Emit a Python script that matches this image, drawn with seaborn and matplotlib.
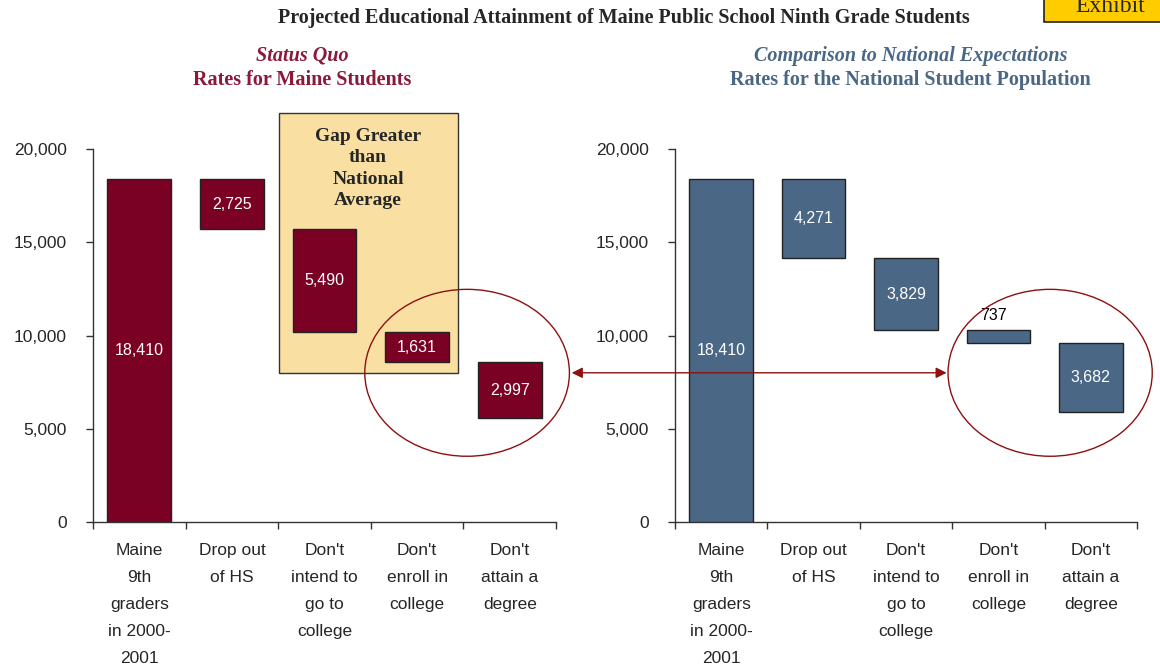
import matplotlib
matplotlib.use("Agg")
import matplotlib.pyplot as plt
from matplotlib.patches import Rectangle, Ellipse
import numpy as np
import pandas as pd
import seaborn as sns

# data
categories = ["Maine\n9th\ngraders\nin 2000-\n2001", "Drop out\nof HS",
              "Don't\nintend to\ngo to\ncollege", "Don't\nenroll in\ncollege",
              "Don't\nattain a\ndegree"]
total = 18410
maine_losses = [2725, 5490, 1631, 2997]
national_losses = [4271, 3829, 737, 3682]
yticks = [0, 5000, 10000, 15000, 20000]

red = "#7A0024"
blue = "#4A6785"
ring = "#8E1010"

sns.set_style("white")
plt.rcParams["font.family"] = ["Liberation Sans", "DejaVu Sans"]
serif = ["Liberation Serif", "DejaVu Serif"]


def waterfall(losses):
    heights = [total] + losses
    bottoms = [0] + list(total - np.cumsum(losses))
    return pd.DataFrame({"cat": categories, "height": heights, "bottom": bottoms})


fig = plt.figure(figsize=(11.6, 6.67), dpi=100)
ax1 = fig.add_axes([93 / 1160, 1 - 522 / 667, 463 / 1160, 373 / 667])
ax2 = fig.add_axes([675 / 1160, 1 - 522 / 667, 462 / 1160, 373 / 667])

for ax, losses, color in [(ax1, maine_losses, red), (ax2, national_losses, blue)]:
    df = waterfall(losses)
    sns.barplot(data=df, x="cat", y="height", bottom=df["bottom"].values,
                color=color, saturation=1, width=0.69, errorbar=None,
                edgecolor="#222222", linewidth=1.0, ax=ax, zorder=3)
    for i, row in df.iterrows():
        label = f"{row['height']:,}"
        if row["height"] < 1000:
            ax.text(i - 0.05, row["bottom"] + row["height"] + 350, label,
                    ha="center", va="bottom", color="black", fontsize=11.5, zorder=5)
        else:
            ax.text(i, row["bottom"] + row["height"] / 2, label,
                    ha="center", va="center", color="white", fontsize=11.5, zorder=5)
    ax.set_ylim(0, 20000)
    ax.set_xlim(-0.5, 4.5)
    ax.set_yticks(yticks)
    ax.set_yticklabels([f"{v:,}" for v in yticks], fontsize=12.5)
    ax.set_xticks(range(5))
    ax.set_xticklabels(categories, fontsize=12.5, linespacing=2.0, va="top")
    ax.set_xticks(np.arange(-0.5, 5, 1), minor=True)
    ax.tick_params(axis="x", which="major", length=0, pad=15)
    ax.tick_params(axis="x", which="minor", length=5, width=1, color="#333333",
                   direction="out", bottom=True)
    ax.tick_params(axis="y", length=5, width=1, color="#333333", direction="out",
                   left=True, pad=14)
    ax.set_xlabel("")
    ax.set_ylabel("")
    for s in ["top", "right"]:
        ax.spines[s].set_visible(False)
    for s in ["left", "bottom"]:
        ax.spines[s].set_color("#333333")
        ax.spines[s].set_linewidth(1)
    ax.patch.set_alpha(0)

# gap box on the Maine panel
ax1.add_patch(Rectangle((1.51, 8000), 1.93, 13930, facecolor="#F9E0A2",
                        edgecolor="#333333", linewidth=1, clip_on=False, zorder=1))
ax1.text(2.47, 18950, "Gap Greater\nthan\nNational\nAverage", ha="center", va="center",
         fontsize=14, fontweight="bold", family=serif, linespacing=1.33, zorder=4)

# ellipses and connecting arrow
for ax, cx in [(ax1, 3.54), (ax2, 3.56)]:
    ax.add_patch(Ellipse((cx, 8000), 2.21, 8950, facecolor="none", edgecolor=ring,
                         linewidth=1, clip_on=False, zorder=6))
ax2.annotate("", xy=(2.44, 8000), xycoords=ax2.transData,
             xytext=(4.67, 8000), textcoords=ax1.transData,
             arrowprops=dict(arrowstyle="<|-|>", color=ring, lw=1,
                             mutation_scale=16, shrinkA=0, shrinkB=0))

# titles
fig.text(0.538, 1 - 18 / 667, "Projected Educational Attainment of Maine Public School Ninth Grade Students",
         ha="center", va="center", fontsize=14.5, fontweight="bold", family=serif)
fig.text(302 / 1160, 1 - 56 / 667, "Status Quo", ha="center", va="center", fontsize=14.5,
         fontweight="bold", style="italic", color="#8B1A3A", family=serif)
fig.text(302 / 1160, 1 - 80 / 667, "Rates for Maine Students", ha="center", va="center",
         fontsize=14.5, fontweight="bold", color="#8B1A3A", family=serif)
fig.text(911 / 1160, 1 - 56 / 667, "Comparison to National Expectations", ha="center",
         va="center", fontsize=14.5, fontweight="bold", style="italic", color="#4A6785",
         family=serif)
fig.text(910 / 1160, 1 - 80 / 667, "Rates for the National Student Population", ha="center",
         va="center", fontsize=14.5, fontweight="bold", color="#4A6785", family=serif)

# exhibit tag, cut off at the top edge as in the source
fig.patches.append(Rectangle((1044 / 1160, 1 - 22 / 667), 0.2, 0.1, transform=fig.transFigure,
                             facecolor="#FFCC00", edgecolor="#222222", linewidth=1.2))
fig.text(1075 / 1160, 1 - 12 / 667, "Exhibit", ha="left", va="baseline", fontsize=17,
         family=serif)

fig.savefig("out.png", dpi=100)
